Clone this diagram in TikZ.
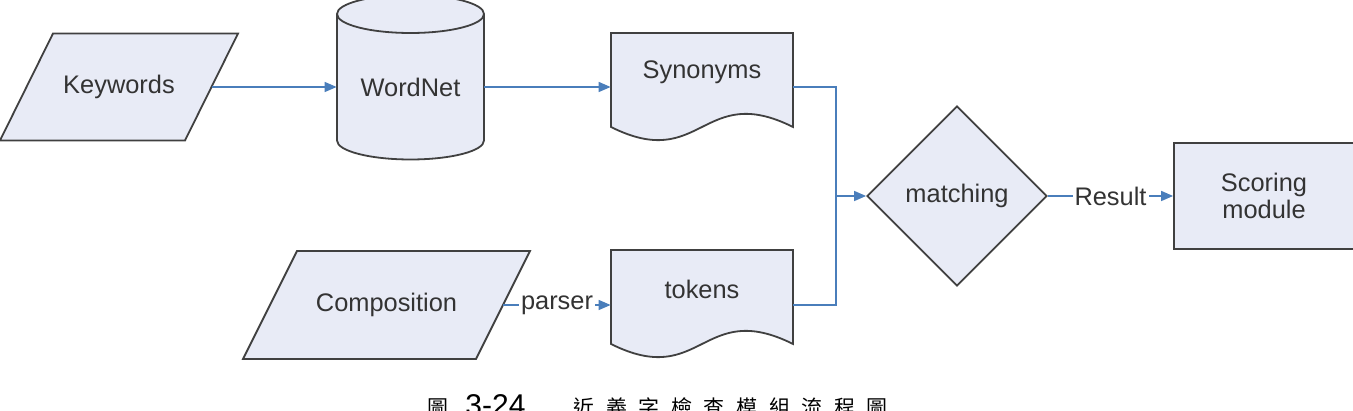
\documentclass[tikz,border=0pt]{standalone}
\usepackage{fontspec}
\setmainfont{Liberation Sans}
\newfontfamily\cjk{Noto Sans CJK TC}
\usetikzlibrary{arrows.meta,calc,positioning,shapes.geometric,backgrounds}
\definecolor{shapefill}{RGB}{232,235,246}
\definecolor{shapeline}{RGB}{64,64,64}
\definecolor{flowblue}{RGB}{74,126,187}
\definecolor{textgray}{RGB}{51,51,51}

\begin{document}
\begin{tikzpicture}[x=0.5pt,y=0.5pt,
every node/.style={font=\fontsize{12.7}{13.5}\selectfont,text=textgray,inner sep=0pt},
outline/.style={draw=shapeline,fill=shapefill,line width=0.9pt},
flow/.style={draw=flowblue,line width=0.75pt},
tip/.style={-{Triangle[length=6pt,width=5pt]}},
tag/.style={fill=white,inner sep=1pt}]
\useasboundingbox (0,0) rectangle (1353,411);
\node[minimum width=92.5pt] (kw) at (119,324) {Keywords};
\node[minimum width=73.5pt] (wn) at (410.5,324) {WordNet};
\node[minimum width=91pt] (syn) at (702,339) {Synonyms};
\node[minimum width=116.5pt] (cmp) at (386.5,106) {Composition};
\node[minimum width=91pt] (tok) at (702,122) {tokens};
\node[outline,diamond,minimum width=90pt,minimum height=90pt] (mat) at (957,215) {matching};
\node[outline,minimum width=90pt,minimum height=53pt,align=center] (sc) at (1264,215) {Scoring\\module};
\coordinate (jn) at (836,215);
\node[anchor=base west,text=black] (cap) at (427,-5)
  {{\cjk\fontsize{10.5}{12}\selectfont 圖}\hspace{8.5pt}{\fontsize{15}{15}\selectfont 3-24}\hspace{24pt}{\cjk\fontsize{10.5}{12}\selectfont
  近\hspace{5.8pt}義\hspace{5.8pt}字\hspace{5.8pt}檢\hspace{5.8pt}查\hspace{5.8pt}模\hspace{5.8pt}組\hspace{5.8pt}流\hspace{5.8pt}程\hspace{5.8pt}圖}};
\begin{scope}[on background layer]
\draw[outline] ($(kw)+(-66,53.5)$) -- ($(kw)+(119,53.5)$) -- ($(kw)+(66,-53.5)$) -- ($(kw)+(-119,-53.5)$) -- cycle;
\draw[outline] ($(cmp)+(-89.5,54)$) -- ($(cmp)+(143.5,54)$) -- ($(cmp)+(89.5,-54)$) -- ($(cmp)+(-143.5,-54)$) -- cycle;
\draw[outline] ($(wn)+(-73.5,73)$) -- ($(wn)+(-73.5,-53.5)$) arc[start angle=180,end angle=360,x radius=73.5,y radius=19]
  -- ($(wn)+(73.5,73)$) arc[start angle=0,end angle=180,x radius=73.5,y radius=19] -- cycle;
\draw[outline,fill=none] ($(wn)+(-73.5,73)$) arc[start angle=180,end angle=360,x radius=73.5,y radius=19];
\foreach \d in {syn,tok}
  \draw[outline] ($(\d)+(-91,39)$) -- ($(\d)+(91,39)$) -- ($(\d)+(91,-55)$)
    .. controls ($(\d)+(0,-9.5)$) and ($(\d)+(0,-100.5)$) .. ($(\d)+(-91,-55)$) -- cycle;
\end{scope}
\draw[flow,tip] (kw) -- (wn);
\draw[flow,tip] (wn) -- (wn -| syn.west);
\draw[flow,tip] (cmp) -- node[tag]{parser} (cmp -| tok.west);
\draw[flow] (wn -| syn.east) -| (jn);
\draw[flow] (cmp -| tok.east) -| (jn);
\draw[flow,tip] (jn) -- (mat);
\draw[flow,tip] (mat) -- node[tag]{Result} (sc);
\end{tikzpicture}
\end{document}
